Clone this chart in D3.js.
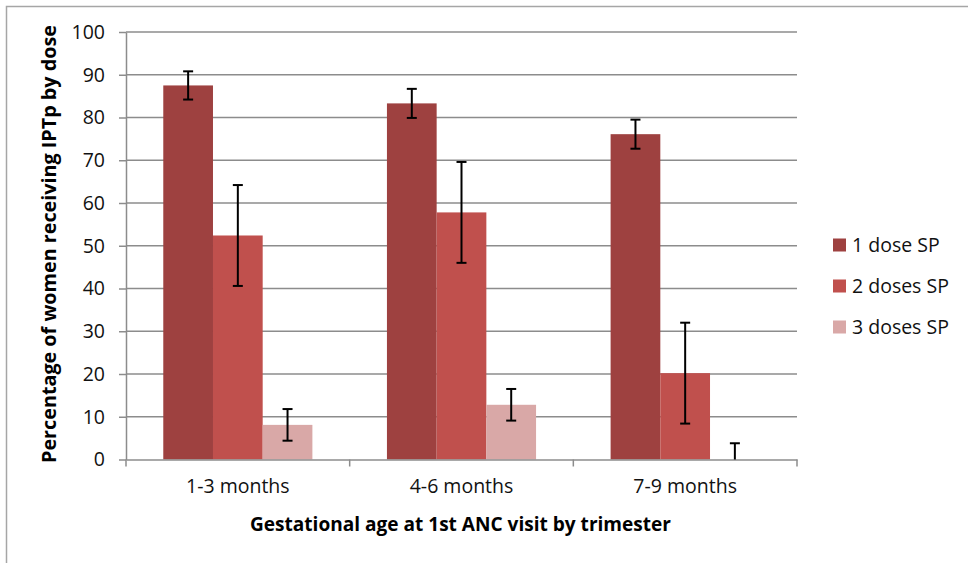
<!DOCTYPE html>
<html>
<head>
<meta charset="utf-8">
<script src="https://cdn.jsdelivr.net/npm/d3@7"></script>
<style>
  html, body { margin: 0; padding: 0; background: #fff; }
  svg { display: block; }
</style>
</head>
<body>
<svg id="chart" width="968" height="563"></svg>
<script>
const categories = ["1-3 months", "4-6 months", "7-9 months"];
const seriesNames = ["1 dose SP", "2 doses SP", "3 doses SP"];
const dose1 = [87.5, 83.3, 76.1];
const dose2 = [52.4, 57.8, 20.2];
const dose3 = [8.1, 12.8, 0];
const err1 = [3.3, 3.4, 3.4];
const err2 = [11.8, 11.8, 11.8];
const err3 = [3.7, 3.7, 3.8];
const yTicks = [0, 10, 20, 30, 40, 50, 60, 70, 80, 90, 100];
const colors = ["#9e4140", "#c0504d", "#d9a8a7"];

const values = [dose1, dose2, dose3];
const errors = [err1, err2, err3];

const svg = d3.select("#chart");
const font = "'Open Sans', 'Noto Sans', sans-serif";
const textColor = "#111";

// outer border of chart area
svg.append("path")
  .attr("d", "M6.5,563 L6.5,6.5 L968,6.5")
  .attr("fill", "none")
  .attr("stroke", "#a6a6a6")
  .attr("stroke-width", 1.5);

const plotLeft = 126, plotRight = 797, plotTop = 32, plotBottom = 459.5;

const y = d3.scaleLinear().domain([0, 100]).range([plotBottom, plotTop]);
const x0 = d3.scaleBand().domain(categories).range([plotLeft, plotRight]).paddingInner(0).paddingOuter(0);
const x1 = d3.scaleBand().domain(seriesNames).range([0, x0.bandwidth()]).paddingInner(0).paddingOuter(0.75);

// gridlines
svg.append("g").selectAll("line")
  .data(yTicks.filter(t => t > 0))
  .join("line")
  .attr("x1", plotLeft).attr("x2", plotRight)
  .attr("y1", d => y(d)).attr("y2", d => y(d))
  .attr("stroke", "#8c8c8c").attr("stroke-width", 1.5);

// bars
const rows = [];
categories.forEach((c, ci) => {
  seriesNames.forEach((s, si) => {
    rows.push({ cat: c, ser: s, si, v: values[si][ci], e: errors[si][ci] });
  });
});

svg.append("g").selectAll("rect")
  .data(rows)
  .join("rect")
  .attr("x", d => x0(d.cat) + x1(d.ser))
  .attr("y", d => y(d.v))
  .attr("width", x1.bandwidth())
  .attr("height", d => y(0) - y(d.v))
  .attr("fill", d => colors[d.si]);

// y axis
const yAxis = d3.axisLeft(y).tickValues(yTicks).tickSizeOuter(0).tickSizeInner(7).tickPadding(14);
const gy = svg.append("g").attr("transform", `translate(${plotLeft},0)`).call(yAxis);
gy.select(".domain").attr("stroke", "#8c8c8c").attr("stroke-width", 1.5);
gy.selectAll(".tick line").attr("stroke", "#8c8c8c").attr("stroke-width", 1.5);
gy.selectAll(".tick text").attr("font-family", font).attr("font-size", 19.5).attr("fill", textColor);

// x axis
const xAxis = d3.axisBottom(x0).tickSize(0).tickPadding(20);
const gx = svg.append("g").attr("transform", `translate(0,${plotBottom})`).call(xAxis);
gx.select(".domain").attr("stroke", "#8c8c8c").attr("stroke-width", 1.5);
gx.selectAll(".tick text").attr("font-family", font).attr("font-size", 19.5).attr("fill", textColor);
// category boundary tick marks
const bounds = categories.map(c => x0(c)).concat([x0(categories[categories.length - 1]) + x0.bandwidth()]);
gx.append("g").selectAll("line")
  .data(bounds)
  .join("line")
  .attr("x1", d => d).attr("x2", d => d)
  .attr("y1", 0).attr("y2", 7)
  .attr("stroke", "#8c8c8c").attr("stroke-width", 1.5);

// error bars
const cap = 5;
const eg = svg.append("g").attr("stroke", "#000").attr("stroke-width", 2);
rows.forEach(d => {
  const cx = x0(d.cat) + x1(d.ser) + x1.bandwidth() / 2;
  const hi = d.v + d.e;
  const lo = Math.max(0, d.v - d.e);
  eg.append("line").attr("x1", cx).attr("x2", cx).attr("y1", y(hi)).attr("y2", y(lo));
  eg.append("line").attr("x1", cx - cap).attr("x2", cx + cap).attr("y1", y(hi)).attr("y2", y(hi));
  if (d.v - d.e > 0) {
    eg.append("line").attr("x1", cx - cap).attr("x2", cx + cap).attr("y1", y(lo)).attr("y2", y(lo));
  }
});

// axis titles
svg.append("text")
  .attr("x", (250 + 671) / 2).attr("y", 531)
  .attr("text-anchor", "middle")
  .attr("font-family", font).attr("font-weight", "bold").attr("font-size", 20)
  .attr("textLength", 421).attr("lengthAdjust", "spacingAndGlyphs")
  .attr("fill", "#000")
  .text("Gestational age at 1st ANC visit by trimester");

svg.append("text")
  .attr("transform", `translate(56,${(463 + 25) / 2}) rotate(-90)`)
  .attr("text-anchor", "middle")
  .attr("font-family", font).attr("font-weight", "bold").attr("font-size", 20)
  .attr("textLength", 438).attr("lengthAdjust", "spacingAndGlyphs")
  .attr("fill", "#000")
  .text("Percentage of women receiving IPTp by dose");

// legend
const legendY = [245, 286, 327];
const lg = svg.append("g");
seriesNames.forEach((s, i) => {
  lg.append("rect")
    .attr("x", 833).attr("y", legendY[i] - 6.5)
    .attr("width", 13).attr("height", 13)
    .attr("fill", colors[i]);
  lg.append("text")
    .attr("x", 852).attr("y", legendY[i])
    .attr("dy", "0.35em")
    .attr("font-family", font).attr("font-size", 19.5)
    .attr("fill", textColor)
    .text(s);
});
</script>
</body>
</html>
